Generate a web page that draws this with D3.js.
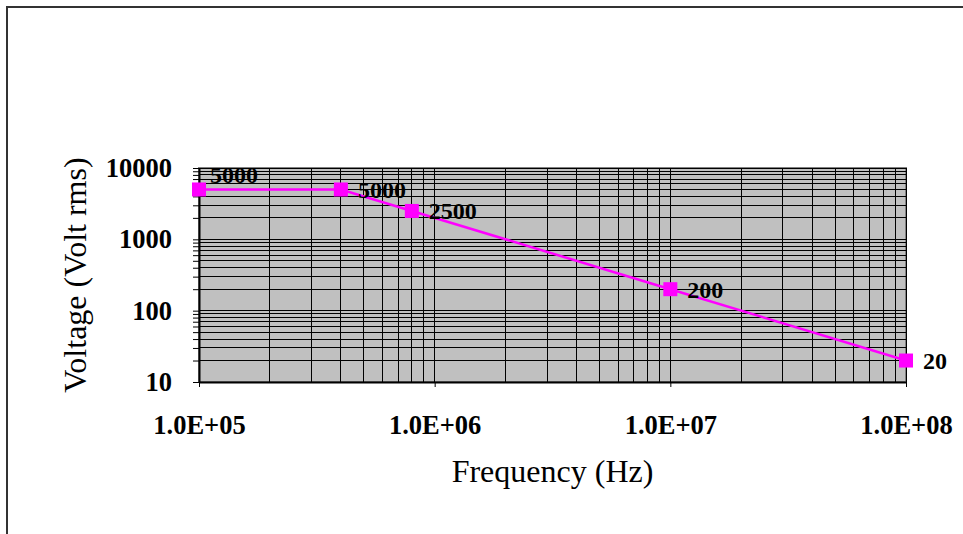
<!DOCTYPE html>
<html>
<head>
<meta charset="utf-8">
<script src="https://cdn.jsdelivr.net/npm/d3@7"></script>
<style>
  html, body { margin: 0; padding: 0; background: #ffffff; }
  svg { display: block; font-family: "Liberation Serif", "Times New Roman", serif; }
</style>
</head>
<body>
<div id="chart"></div>
<script>
// Data
const frequencies = [1e5, 4e5, 8e5, 1e7, 1e8];
const voltages = [5000, 5000, 2500, 200, 20];
const pointLabels = ['5000', '5000', '2500', '200', '20'];

const xTicks = [1e5, 1e6, 1e7, 1e8];
const xTickLabels = ['1.0E+05', '1.0E+06', '1.0E+07', '1.0E+08'];
const yTicks = [10, 100, 1000, 10000];
const yTickLabels = ['10', '100', '1000', '10000'];

const width = 963;
const height = 534;
const margin = { top: 168, right: 57, bottom: 152, left: 199 };
const plotW = width - margin.left - margin.right;
const plotH = height - margin.top - margin.bottom;

const colors = {
    plotBg: '#c0c0c0',
    grid: '#000000',
    series: '#ff00ff',
    frame: '#333333',
    plotBorder: '#808080'
};

const svg = d3.select('#chart')
    .append('svg')
    .attr('width', width)
    .attr('height', height);

// outer chart frame (right and bottom edges fall outside the window)
svg.append('rect')
    .attr('x', 7)
    .attr('y', 7)
    .attr('width', 980)
    .attr('height', 560)
    .attr('fill', 'none')
    .attr('stroke', colors.frame)
    .attr('stroke-width', 2);

const g = svg.append('g')
    .attr('transform', `translate(${margin.left},${margin.top})`);

const x = d3.scaleLog().domain([1e5, 1e8]).range([0, plotW]);
const y = d3.scaleLog().domain([10, 10000]).range([plotH, 0]);

// plot area
g.append('rect')
    .attr('width', plotW)
    .attr('height', plotH)
    .attr('fill', colors.plotBg)
    .attr('stroke', colors.plotBorder)
    .attr('stroke-width', 2);

// gridlines, major and minor
g.append('g')
    .attr('class', 'x-grid')
    .attr('shape-rendering', 'crispEdges')
    .selectAll('line')
    .data(x.ticks())
    .join('line')
    .attr('x1', d => x(d))
    .attr('x2', d => x(d))
    .attr('y1', 0)
    .attr('y2', plotH)
    .attr('stroke', colors.grid)
    .attr('stroke-width', 1);

g.append('g')
    .attr('class', 'y-grid')
    .attr('shape-rendering', 'crispEdges')
    .selectAll('line')
    .data(y.ticks())
    .join('line')
    .attr('x1', 0)
    .attr('x2', plotW)
    .attr('y1', d => y(d))
    .attr('y2', d => y(d))
    .attr('stroke', colors.grid)
    .attr('stroke-width', 1);

// axes
const xAxis = d3.axisBottom(x)
    .tickValues(xTicks)
    .tickFormat((d, i) => xTickLabels[i])
    .tickSize(5)
    .tickSizeOuter(0)
    .tickPadding(28);

const yAxis = d3.axisLeft(y)
    .tickValues(y.ticks())
    .tickFormat(d => {
        const i = yTicks.indexOf(d);
        return i >= 0 ? yTickLabels[i] : '';
    })
    .tickSize(6)
    .tickSizeOuter(0)
    .tickPadding(21);

const tickFont = a => a.selectAll('text')
    .attr('fill', '#000')
    .style('font-size', '26.5px')
    .style('font-weight', 'bold')
    .style('font-family', '"Liberation Serif", "Times New Roman", serif');

g.append('g')
    .attr('class', 'x-axis')
    .attr('transform', `translate(0,${plotH})`)
    .call(xAxis)
    .call(a => a.select('.domain').attr('stroke', '#000').attr('stroke-width', 2))
    .call(tickFont);

g.append('g')
    .attr('class', 'y-axis')
    .call(yAxis)
    .call(a => a.select('.domain').attr('stroke', '#000').attr('stroke-width', 2))
    .call(tickFont);

// series
const points = frequencies.map((f, i) => ({ f, v: voltages[i], label: pointLabels[i] }));

g.append('path')
    .datum(points)
    .attr('fill', 'none')
    .attr('stroke', colors.series)
    .attr('stroke-width', 2.5)
    .attr('d', d3.line().x(d => x(d.f)).y(d => y(d.v)));

g.append('g')
    .selectAll('rect')
    .data(points)
    .join('rect')
    .attr('x', d => x(d.f) - 7)
    .attr('y', d => y(d.v) - 7)
    .attr('width', 14)
    .attr('height', 14)
    .attr('fill', colors.series);

// data labels, the first one sits a bit higher like in the original
g.append('g')
    .selectAll('text')
    .data(points)
    .join('text')
    .attr('x', (d, i) => x(d.f) + (i === 0 ? 11 : 17))
    .attr('y', (d, i) => y(d.v) - (i === 0 ? 15 : 0))
    .attr('dy', '0.35em')
    .attr('fill', '#000')
    .style('font-size', '24px')
    .style('font-weight', 'bold')
    .text(d => d.label);

// axis titles
svg.append('text')
    .attr('x', margin.left + plotW / 2)
    .attr('y', 482)
    .attr('text-anchor', 'middle')
    .attr('fill', '#000')
    .style('font-size', '32px')
    .text('Frequency (Hz)');

svg.append('text')
    .attr('transform', `translate(86,${margin.top + plotH / 2}) rotate(-90)`)
    .attr('text-anchor', 'middle')
    .attr('fill', '#000')
    .style('font-size', '32px')
    .text('Voltage (Volt rms)');
</script>
</body>
</html>
